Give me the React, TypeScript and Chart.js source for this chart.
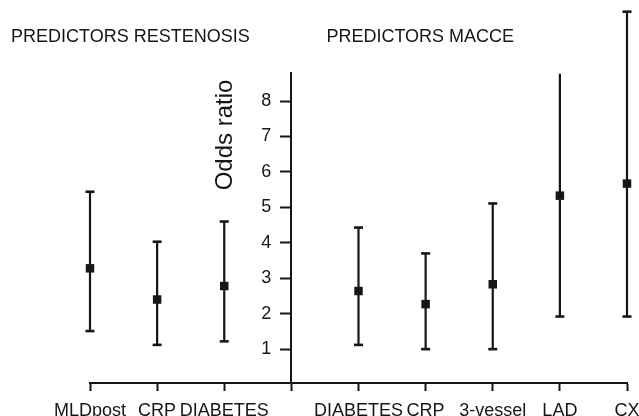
import React, { useEffect, useRef } from 'react';
import { Chart, registerables, LinearScale } from 'chart.js';

Chart.register(...registerables);

// ---- data ----
const categories = ['MLDpost', 'CRP', 'DIABETES', '', 'DIABETES', 'CRP', '3-vessel', 'LAD', 'CX'];
const oddsRatio = [3.28, 2.4, 2.78, null, 2.64, 2.27, 2.83, 5.33, 5.67];
const lowerCI = [1.51, 1.12, 1.22, null, 1.12, 1.0, 1.0, 1.92, 1.92];
const upperCI = [5.44, 4.03, 4.6, null, 4.43, 3.7, 5.11, 8.77, 10.52];
const yTicks = [1, 2, 3, 4, 5, 6, 7, 8];
const groupTitles = ['PREDICTORS RESTENOSIS', 'PREDICTORS MACCE'];
const yAxisTitle = 'Odds ratio';
const axisCategoryIndex = 3;

const INK = '#161616';
const FONT = '"Liberation Sans", Arial, Helvetica, sans-serif';

// Linear scale drawn in the middle of the plot, with its labels left of the tick marks
class CenterYScale extends (LinearScale as any) {
  static id = 'centerLinear';
  _computeLabelItems(chartArea: any) {
    const items = super._computeLabelItems(chartArea);
    const opts = (this as any).options;
    const gap = opts.grid.tickLength + opts.ticks.padding;
    items.forEach((it: any) => {
      const t = it.options.translation;
      it.options.translation = [t[0] - gap, t[1]];
    });
    return items;
  }
}
Chart.register(CenterYScale as any);

const errorBarPlugin = {
  id: 'errorBars',
  beforeDatasetsDraw(chart: any, _args: any, opts: any) {
    const { ctx, scales } = chart;
    const x = scales.x;
    const y = scales.y;
    const noTopCap: number[] = (opts && opts.noTopCap) || [];
    ctx.save();
    ctx.strokeStyle = INK;
    oddsRatio.forEach((v, i) => {
      if (v == null) return;
      const px = x.getPixelForValue(i);
      const top = y.getPixelForValue(upperCI[i] as number);
      const bot = y.getPixelForValue(lowerCI[i] as number);
      ctx.lineWidth = 2.2;
      ctx.beginPath();
      ctx.moveTo(px, top);
      ctx.lineTo(px, bot);
      ctx.stroke();
      ctx.lineWidth = 2.6;
      const half = 4.5;
      if (!noTopCap.includes(i)) {
        ctx.beginPath();
        ctx.moveTo(px - half, top);
        ctx.lineTo(px + half, top);
        ctx.stroke();
      }
      ctx.beginPath();
      ctx.moveTo(px - half, bot);
      ctx.lineTo(px + half, bot);
      ctx.stroke();
    });
    ctx.restore();
  },
};

const textPlugin = {
  id: 'groupText',
  afterDraw(chart: any) {
    const { ctx, scales, chartArea } = chart;
    const axisX = scales.x.getPixelForValue(axisCategoryIndex);
    ctx.save();
    ctx.fillStyle = INK;
    ctx.font = `18px ${FONT}`;
    ctx.textBaseline = 'alphabetic';
    ctx.textAlign = 'left';
    ctx.fillText(groupTitles[0], 11, 42);
    ctx.fillText(groupTitles[1], axisX + 35, 42);
    ctx.translate(axisX - 59, chartArea.top + 62);
    ctx.rotate(-Math.PI / 2);
    ctx.textAlign = 'center';
    ctx.font = `24px ${FONT}`;
    ctx.fillText(yAxisTitle, 0, 0);
    ctx.restore();
  },
};

export default function App() {
  const ref = useRef<HTMLCanvasElement | null>(null);
  useEffect(() => {
    if (!ref.current) return;
    const chart = new Chart(ref.current, {
      type: 'line',
      data: {
        labels: categories,
        datasets: [
          {
            data: oddsRatio as any,
            showLine: false,
            pointStyle: 'rect',
            pointRadius: 6,
            pointHoverRadius: 6,
            backgroundColor: INK,
            borderColor: INK,
            borderWidth: 0,
            clip: false as any,
          },
        ],
      },
      options: {
        responsive: false,
        animation: false,
        layout: { padding: { top: 73, left: 90, right: 12, bottom: -15 } },
        plugins: {
          legend: { display: false },
          tooltip: { enabled: false },
          errorBars: { noTopCap: [7] },
        } as any,
        scales: {
          x: {
            type: 'category',
            offset: false,
            position: 'bottom',
            afterFit: (s: any) => {
              s.paddingLeft = 0;
              s.paddingRight = 0;
            },
            grid: {
              drawOnChartArea: false,
              offset: false,
              tickLength: 8,
              tickWidth: 2,
              tickColor: INK,
            },
            border: { display: true, color: INK, width: 2 },
            ticks: {
              autoSkip: false,
              maxRotation: 0,
              minRotation: 0,
              padding: 11,
              color: INK,
              font: { family: FONT, size: 18, lineHeight: 1 },
            },
          },
          y: {
            type: 'centerLinear' as any,
            position: { x: axisCategoryIndex } as any,
            min: 0.045,
            max: 8.79,
            afterBuildTicks: (s: any) => {
              s.ticks = yTicks.map((v) => ({ value: v }));
            },
            grid: {
              drawOnChartArea: false,
              tickLength: 10,
              tickWidth: 2,
              tickColor: INK,
            },
            border: { display: true, color: INK, width: 2 },
            ticks: {
              padding: 10,
              color: INK,
              font: { family: FONT, size: 18 },
            },
          } as any,
        },
      },
      plugins: [errorBarPlugin, textPlugin],
    });
    return () => chart.destroy();
  }, []);
  return (
    <div style={{ position: 'fixed', left: 0, top: 0, width: 639, height: 416, background: '#fff', overflow: 'hidden' }}>
      <canvas ref={ref} width={639} height={416} style={{ display: 'block' }} />
    </div>
  );
}
